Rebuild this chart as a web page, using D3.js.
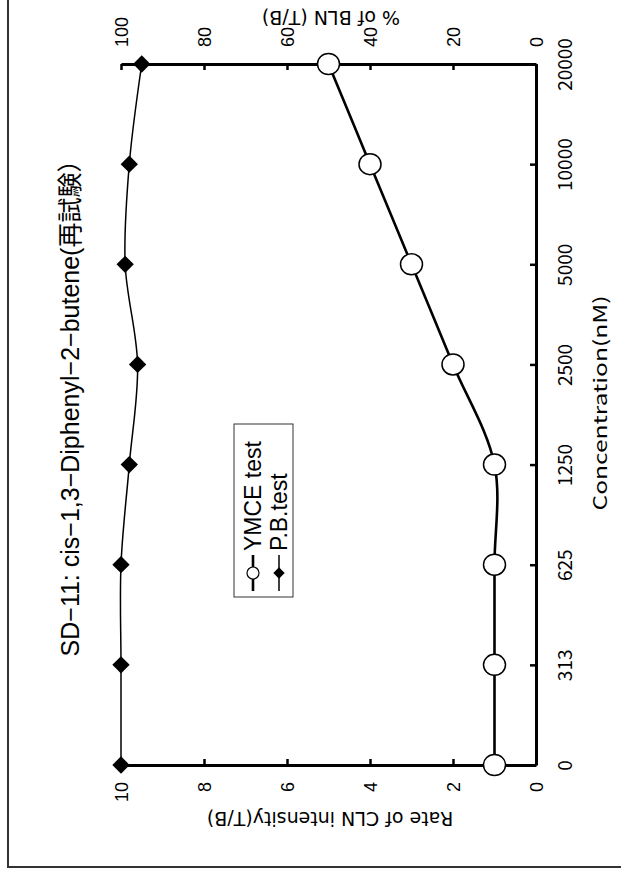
<!DOCTYPE html>
<html>
<head>
<meta charset="utf-8">
<script src="https://cdn.jsdelivr.net/npm/d3@7"></script>
<style>
  body { margin: 0; background: #fff; }
</style>
</head>
<body>
<svg id="chart" width="621" height="877"></svg>
<script>
// Concentration steps (nM), equally spaced along the category axis
const concentrations = ["0", "313", "625", "1250", "2500", "5000", "10000", "20000"];
// Rate of CLN intensity (T/B) for the YMCE test
const ymceRate = [1, 1, 1, 1, 2, 3, 4, 5];
// % of BLN (T/B) for the P.B. test
const pbPercent = [100, 100, 100, 98, 96, 99, 98, 95];
const rateTicks = [0, 2, 4, 6, 8, 10];
const percentTicks = [0, 20, 40, 60, 80, 100];
const seriesNames = ["YMCE test", "P.B.test"];
const titleText = "SD−11: cis−1,3−Diphenyl−2−butene(再試験）";

const LATIN = "'Liberation Sans', Arial, 'Noto Sans CJK JP', sans-serif";
const WIDE = "'DejaVu Sans', 'Liberation Sans', sans-serif";
const GOTHIC = "'Noto Sans CJK JP', 'DejaVu Sans', sans-serif";

// Plot frame (the whole chart is laid out turned a quarter turn)
const plotLeft = 121, plotRight = 536, plotTop = 64, plotBottom = 765;

const svg = d3.select("#chart");

// outer frame
svg.append("rect")
  .attr("x", 8).attr("y", -10).attr("width", 640).attr("height", 877)
  .attr("fill", "none").attr("stroke", "#333").attr("stroke-width", 2);

const yConc = d3.scalePoint().domain(concentrations).range([plotBottom, plotTop]);
const xRate = d3.scaleLinear().domain([0, 10]).range([plotRight, plotLeft]);
const xPct = d3.scaleLinear().domain([0, 100]).range([plotRight, plotLeft]);

// Concentration axis on the right
const gC = svg.append("g")
  .attr("transform", `translate(${plotRight},0)`)
  .call(d3.axisRight(yConc).tickSizeInner(-6).tickSizeOuter(0));
gC.selectAll(".tick text")
  .attr("x", null).attr("dy", null)
  .attr("transform", "translate(36,0) rotate(-90)")
  .attr("text-anchor", "middle")
  .style("font-family", GOTHIC).style("font-size", "19px").attr("fill", "#000");

// Rate axis along the bottom
const gR = svg.append("g")
  .attr("transform", `translate(0,${plotBottom})`)
  .call(d3.axisBottom(xRate).tickValues(rateTicks).tickSizeInner(-6).tickSizeOuter(0));
gR.selectAll(".tick text")
  .attr("y", null).attr("dy", "0.35em")
  .attr("transform", "translate(0,17) rotate(-90)")
  .attr("text-anchor", "end")
  .style("font-family", LATIN).style("font-size", "18px").attr("fill", "#000");

// Percent axis along the top
const gP = svg.append("g")
  .attr("transform", `translate(0,${plotTop})`)
  .call(d3.axisTop(xPct).tickValues(percentTicks).tickSizeInner(-6).tickSizeOuter(0));
gP.selectAll(".tick text")
  .attr("y", null).attr("dy", "0.35em")
  .attr("transform", "translate(0,-17) rotate(-90)")
  .attr("text-anchor", "start")
  .style("font-family", LATIN).style("font-size", "18px").attr("fill", "#000");

[gC, gR, gP].forEach(g => {
  g.select(".domain").attr("stroke", "#000").attr("stroke-width", 3);
  g.selectAll(".tick line").attr("stroke", "#000").attr("stroke-width", 2.5);
});

// Axis titles
svg.append("text")
  .attr("transform", `translate(607,403) rotate(-90)`)
  .attr("text-anchor", "middle")
  .attr("textLength", 215).attr("lengthAdjust", "spacingAndGlyphs")
  .style("font-family", GOTHIC).style("font-size", "18px")
  .text("Concentration(nM)");

svg.append("text")
  .attr("transform", `translate(330,812) rotate(180)`)
  .attr("text-anchor", "middle")
  .style("font-family", WIDE).style("font-size", "19px")
  .text("Rate of CLN intensity(T/B)");

svg.append("text")
  .attr("transform", `translate(331,11) rotate(180)`)
  .attr("text-anchor", "middle")
  .style("font-family", WIDE).style("font-size", "19px")
  .text("% of BLN (T/B)");

// Chart title
svg.append("text")
  .attr("transform", `translate(79,402) rotate(-90)`)
  .attr("text-anchor", "middle")
  .style("font-family", LATIN).style("font-size", "25px")
  .text(titleText);

// Series
const smooth = d3.curveCatmullRom.alpha(0.5);

const pbPts = concentrations.map((c, i) => ({ c, v: pbPercent[i] }));
const ymcePts = concentrations.map((c, i) => ({ c, v: ymceRate[i] }));

svg.append("path")
  .datum(pbPts)
  .attr("fill", "none").attr("stroke", "#000").attr("stroke-width", 1.5)
  .attr("d", d3.line().x(d => xPct(d.v)).y(d => yConc(d.c)).curve(smooth));

svg.append("path")
  .datum(ymcePts)
  .attr("fill", "none").attr("stroke", "#000").attr("stroke-width", 2.6)
  .attr("d", d3.line().x(d => xRate(d.v)).y(d => yConc(d.c)).curve(smooth));

const diamond = d3.symbol().type(d3.symbolSquare).size(150);
svg.append("g").selectAll("path")
  .data(pbPts).join("path")
  .attr("transform", d => `translate(${xPct(d.v)},${yConc(d.c)}) rotate(45)`)
  .attr("d", diamond)
  .attr("fill", "#000");

svg.append("g").selectAll("ellipse")
  .data(ymcePts).join("ellipse")
  .attr("cx", d => xRate(d.v)).attr("cy", d => yConc(d.c))
  .attr("rx", 11).attr("ry", 10.5)
  .attr("fill", "#fff").attr("stroke", "#000").attr("stroke-width", 1.5);

// Legend
const lg = svg.append("g");
lg.append("rect")
  .attr("x", 234).attr("y", 424).attr("width", 59).attr("height", 173)
  .attr("fill", "#fff").attr("stroke", "#333").attr("stroke-width", 1);

const legendX = [253, 279];
const legendSymY = 573;
// YMCE entry
lg.append("line").attr("x1", legendX[0]).attr("x2", legendX[0]).attr("y1", legendSymY + 18).attr("y2", legendSymY - 18)
  .attr("stroke", "#000").attr("stroke-width", 2.6);
lg.append("circle").attr("cx", legendX[0]).attr("cy", legendSymY).attr("r", 6)
  .attr("fill", "#fff").attr("stroke", "#000").attr("stroke-width", 1.2);
// P.B. entry
lg.append("line").attr("x1", legendX[1]).attr("x2", legendX[1]).attr("y1", legendSymY + 18).attr("y2", legendSymY - 18)
  .attr("stroke", "#000").attr("stroke-width", 1.5);
lg.append("path").attr("transform", `translate(${legendX[1]},${legendSymY}) rotate(45)`)
  .attr("d", d3.symbol().type(d3.symbolSquare).size(64)).attr("fill", "#000");

seriesNames.forEach((name, i) => {
  lg.append("text")
    .attr("transform", `translate(${legendX[i] + 8},${legendSymY - 22}) rotate(-90)`)
    .attr("text-anchor", "start")
    .style("font-family", LATIN).style("font-size", "23px")
    .text(name);
});
</script>
</body>
</html>
